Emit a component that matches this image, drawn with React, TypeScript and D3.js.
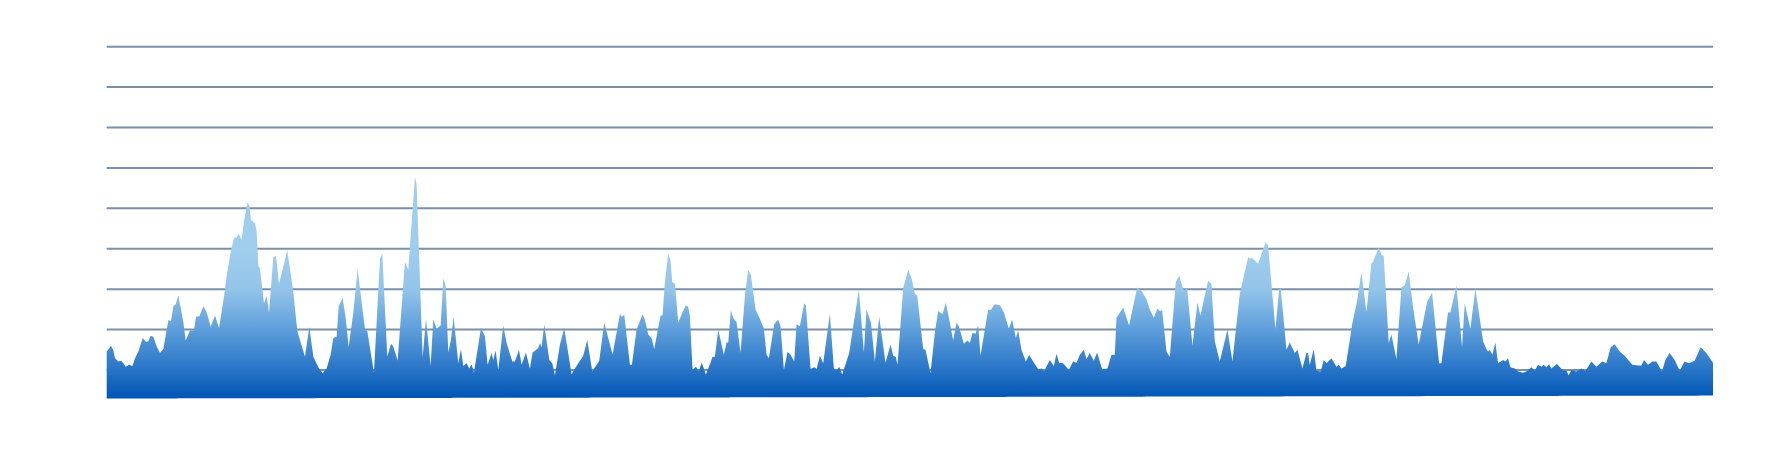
import React from 'react';
import * as d3 from 'd3';

// sample position (time index) and value of each vertex of the series
const days = [
  0.0, 1.3, 2.0, 2.5, 3.5, 4.3, 5.0, 5.7, 6.7, 7.7, 8.5, 9.5, 10.8, 11.8, 12.5, 13.2, 14.0, 15.0, 16.0, 17.0,
  18.5, 19.3, 20.0, 20.7, 21.5, 23.0, 23.7, 25.0, 26.2, 26.8, 27.8, 29.0, 30.0, 31.2, 32.5, 33.7, 35.2, 36.0, 37.2, 38.2,
  39.0, 39.5, 40.5, 41.2, 42.2, 42.8, 43.3, 44.5, 45.0, 45.5, 46.0, 47.2, 48.0, 48.7, 50.0, 50.8, 51.7, 54.2, 56.0, 57.2,
  59.5, 60.8, 62.0, 63.5, 64.8, 66.0, 67.2, 68.0, 69.0, 69.6, 70.8, 71.8, 72.6, 74.0,
  75.3, 77.5, 78.2, 80.2, 82.0, 82.7, 84.2, 85.3, 86.0, 87.3, 89.5, 90.5, 92.5, 93.0, 94.8, 95.8, 97.2, 98.0, 99.0, 100.2,
  101.0, 101.7, 102.5, 103.3, 104.1, 105.5, 106.3, 107.0, 108.0, 108.8, 109.5, 110.2, 112.3, 113.5, 114.3, 115.5, 116.0, 116.7, 117.5, 119.0,
  120.0, 121.7, 122.5, 123.7, 124.5, 125.8, 127.0, 127.8, 129.5, 130.0, 130.5, 131.3, 132.8, 133.7, 134.5, 136.0, 137.3, 139.5, 140.2, 143.0,
  144.2, 145.7, 147.8, 149.3, 151.8, 154.0, 154.6, 155.3, 157.0, 157.6, 159.0, 160.8,
  161.5, 162.5, 163.5, 164.3, 166.2, 166.8, 167.5, 168.5, 169.2, 169.7, 170.5, 171.5, 172.8, 173.8, 174.5, 175.0, 175.8, 176.8, 177.7, 178.5,
  179.0, 179.8, 181.0, 181.8, 182.5, 183.5, 185.2, 186.0, 186.5, 187.3, 188.0, 189.0, 190.2, 191.5, 192.5, 193.3, 194.7, 196.0, 197.2, 198.0,
  198.7, 200.3, 201.5, 202.2, 203.2, 204.3, 205.2, 206.3, 207.0, 208.0, 209.3, 209.8, 211.2, 212.5, 213.0, 214.0, 215.0, 217.0, 218.2, 219.2,
  219.8, 220.7, 222.8, 225.7, 227.2, 228.0, 229.3, 230.5, 231.8, 233.7, 235.2, 236.0, 236.8, 237.3, 239.0, 240.5, 241.5, 242.5, 243.2, 245.0,
  245.7, 247.2, 248.5, 249.5,
  250.8, 251.8, 253.0, 254.0, 255.0, 255.7, 257.2, 258.3, 259.0, 259.8, 260.7, 261.5, 262.2, 264.5, 265.2, 266.5, 268.0, 269.2, 270.7, 271.7,
  272.8, 273.5, 274.5, 275.8, 276.8, 278.0, 279.5, 280.5, 281.3, 283.0, 284.2, 285.0, 285.8, 287.0, 288.7, 290.0, 291.0, 292.0, 293.2, 294.0,
  295.0, 296.2, 297.2, 298.7, 300.3, 301.5, 302.5, 303.0, 305.0, 306.8, 309.2, 310.5, 312.0, 313.0, 314.2, 315.3, 316.0, 316.7, 318.0, 319.0,
  320.8, 321.8, 323.2, 324.2, 325.8, 327.3, 328.2, 330.5, 331.5, 332.5, 334.0, 336.3,
  337.8, 340.0, 342.5, 343.0, 343.7, 345.5, 347.8, 348.5, 350.7, 351.8, 352.3, 354.0, 355.0, 356.5, 357.3, 358.8, 360.0, 360.5, 361.0, 362.2,
  363.0, 364.3, 365.2, 366.0, 367.5, 369.0, 369.7, 370.5, 371.8, 373.8, 375.2, 376.5, 378.0, 379.5, 380.0, 381.7, 382.5, 383.2, 384.7, 385.5,
  387.0, 388.5, 389.5, 390.7, 392.0, 393.7, 396.2, 397.7, 399.8, 400.5, 402.5, 403.2, 405.0, 406.7, 407.5, 409.2, 410.7, 413.0, 414.0, 414.5,
  415.0, 415.8, 416.7, 417.5, 419.0, 419.7, 420.5, 421.2, 422.5,
  423.5, 425.0, 426.0, 427.5, 428.5, 429.5, 430.5, 431.2, 432.0, 432.8, 433.5, 435.2, 436.8, 438.0, 438.7, 439.5, 441.0, 442.5, 443.8, 445.5,
  447.0, 448.8, 450.0, 451.3, 452.5, 454.0, 455.5, 457.8, 459.5, 460.5, 461.3, 462.5, 463.8, 465.0, 466.7, 467.7, 469.0, 470.5, 472.0, 473.5,
  474.8, 476.5, 478.3, 480.0, 482.0,
];

const values = [
  4.6, 6.0, 4.8, 2.9, 2.1, 2.3, 1.7, 0.8, 1.3, 1.0, 2.9, 4.6, 7.9, 6.9, 7.1, 8.5, 8.2, 5.8, 4.2, 5.2,
  12.3, 12.1, 15.8, 16.3, 18.5, 11.8, 7.3, 9.8, 9.8, 13.2, 13.3, 15.8, 14.3, 10.7, 13.5, 10.4, 18.1, 23.3, 29.2, 32.7,
  32.7, 33.8, 32.3, 36.7, 41.3, 40.8, 37.1, 36.3, 34.2, 25.8, 25.0, 16.5, 18.3, 14.2, 27.9, 28.3, 21.3, 29.6, 19.2, 9.6,
  3.3, 10.7, 3.3, 0.7, -0.8, 0.4, 3.8, 7.9, 8.2, 15.8, 17.9, 12.3, 5.7, 14.2,
  25.0, 10.0, 9.6, -0.7, 27.5, 28.8, 3.3, 6.5, 5.8, 2.3, 26.7, 24.8, 47.8, 45.8, 3.1, 12.7, 1.0, 12.5, 10.2, 11.0,
  22.7, 21.0, 4.3, 7.5, 13.2, 1.7, 5.2, 1.0, 1.7, 0.4, 1.4, -0.7, 10.4, 8.3, 1.3, 4.2, 2.5, 4.8, 0.0, 11.0,
  6.7, 2.1, 2.1, 5.0, 1.3, 4.3, 0.3, 4.3, 5.4, 6.7, 5.6, 11.3, 2.5, 1.7, -1.3, 6.3, 10.4, -1.1, 0.0, 3.5,
  7.5, -0.4, 2.3, 11.7, 3.8, 13.8, 13.2, 13.7, 1.3, 1.3, 10.0, 13.8,
  12.5, 8.8, 7.9, 5.2, 13.5, 13.5, 21.7, 28.8, 27.1, 21.7, 21.4, 11.7, 14.3, 16.0, 15.6, 13.3, 0.0, 0.8, -0.3, 1.8,
  0.8, -1.1, 1.4, 3.3, 3.3, 10.0, 3.8, 6.8, 6.8, 14.8, 12.9, 11.8, 4.2, 18.3, 24.8, 23.5, 15.0, 12.7, 10.2, 3.8,
  2.9, 11.3, 12.5, 10.8, 0.0, 4.5, 3.8, 2.1, 11.3, 10.8, 16.5, 16.0, 0.3, 0.7, 0.2, 3.5, 1.7, 14.0, 0.4, 0.0,
  0.8, -1.1, 4.2, 20.0, 4.3, 15.0, 11.8, 2.1, 13.2, 1.8, 6.3, 3.5, 3.2, 1.3, 20.2, 24.8, 22.7, 18.8, 18.5, 5.2,
  5.0, -0.8, 9.2, 14.6,
  13.8, 16.7, 11.7, 7.3, 11.7, 10.8, 6.5, 7.3, 6.7, 9.2, 9.0, 11.0, 3.5, 15.0, 14.8, 16.3, 16.0, 14.3, 10.2, 12.5,
  7.9, 9.8, 5.0, 2.1, 3.8, 2.1, 0.2, 0.4, -0.3, 2.5, 1.0, 4.0, 1.8, 1.7, 0.0, 2.1, 1.8, 3.8, 5.0, 2.7,
  4.2, 2.3, 4.3, 0.2, 0.4, 3.8, 3.8, 12.9, 15.4, 11.0, 20.4, 19.6, 17.5, 15.0, 12.9, 15.2, 14.6, 14.8, 4.6, 3.2,
  21.8, 23.3, 19.6, 20.2, 6.0, 16.7, 13.5, 22.1, 21.3, 7.1, 2.1, 10.0,
  2.1, 18.8, 27.9, 27.5, 27.7, 26.3, 31.7, 30.8, 10.0, 20.0, 20.2, 5.0, 6.8, 4.2, 5.0, 0.4, 4.2, 4.2, 1.3, 5.2,
  -0.2, -0.4, 2.5, 1.7, 2.9, 0.8, 1.3, 0.4, 1.0, 11.7, 17.1, 24.2, 14.3, 26.5, 26.7, 30.4, 28.5, 28.2, 6.7, 8.8,
  2.7, 20.4, 21.0, 24.3, 15.4, 6.3, 16.8, 19.2, 1.7, 1.7, 14.3, 14.2, 21.0, 5.7, 16.5, 10.2, 20.2, 7.1, 5.2, 4.6,
  5.0, 3.8, 6.8, 1.7, 2.5, 2.1, 2.9, 0.7, 0.4,
  -0.4, -0.7, -0.4, 0.7, -0.2, 1.3, 0.8, 1.3, 0.7, 1.4, 0.4, 1.5, 0.0, -0.2, -1.3, 0.0, -0.4, 0.4, -0.2, 2.1,
  0.8, 2.1, 1.7, 5.6, 6.4, 4.6, 3.5, 1.3, 1.1, 1.1, 2.5, 1.3, 2.1, 2.1, -0.4, 2.5, 4.2, 2.5, -0.2, 2.1,
  1.7, 2.3, 5.6, 4.2, 1.8,
];

const gridValues = [0, 10, 20, 30, 40, 50, 60, 70, 80];

export default function App() {
  const width = 1770;
  const height = 460;
  const left = 106.7;
  const right = 1713;

  const x = d3.scaleLinear().domain([0, 482]).range([left, right]);
  const y = d3.scaleLinear().domain([0, 80]).range([370, 46.7]);
  const base = d3.scaleLinear().domain([0, 482]).range([398.5, 395.6]);

  const data = days.map((d, i) => ({ d, v: values[i] }));
  const area = d3
    .area<{ d: number; v: number }>()
    .x((p) => x(p.d))
    .y0((p) => base(p.d))
    .y1((p) => y(p.v))
    .curve(d3.curveLinear);

  return (
    <svg
      width={width}
      height={height}
      style={{ position: 'absolute', left: 0, top: 0, background: '#ffffff' }}
    >
      <defs>
        <linearGradient id="areaFill" gradientUnits="userSpaceOnUse" x1={0} y1={250} x2={0} y2={398}>
          <stop offset="0" stopColor="#9fcdee" />
          <stop offset="0.27" stopColor="#93c4e9" />
          <stop offset="0.54" stopColor="#5d9edb" />
          <stop offset="0.81" stopColor="#2874c7" />
          <stop offset="1" stopColor="#0055b4" />
        </linearGradient>
      </defs>
      {gridValues.map((g) => (
        <line
          key={g}
          x1={left}
          x2={right}
          y1={y(g)}
          y2={y(g)}
          stroke="#7b90a6"
          strokeWidth={2}
        />
      ))}
      <path d={area(data) || ''} fill="url(#areaFill)" />
    </svg>
  );
}
